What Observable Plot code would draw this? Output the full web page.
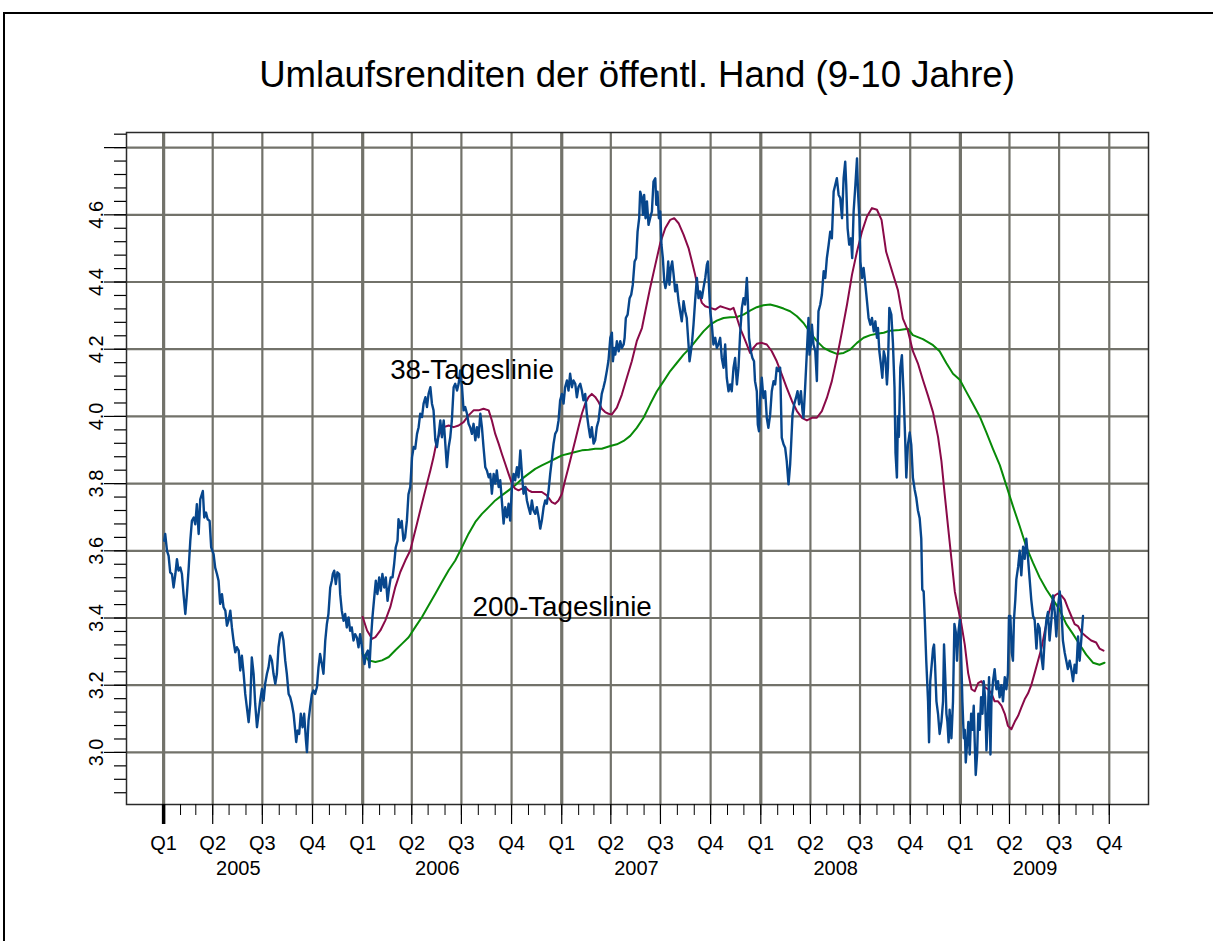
<!DOCTYPE html>
<html><head><meta charset="utf-8">
<script src="https://cdn.jsdelivr.net/npm/d3@7"></script>
<script src="https://cdn.jsdelivr.net/npm/@observablehq/plot@0.6"></script>
<style>
html,body{margin:0;padding:0;background:#fff;width:1213px;height:941px;overflow:hidden;position:relative;}
#outer{position:absolute;left:3px;top:12px;width:1300px;height:1000px;border-left:2px solid #000;border-top:2px solid #000;box-sizing:border-box;}
#title{position:absolute;left:126px;top:0;width:1022px;height:120px;text-align:center;font-family:"Liberation Sans",Arial,sans-serif;font-size:36.6px;line-height:42px;padding-top:54px;box-sizing:border-box;color:#000;}
#chart{position:absolute;left:0;top:120px;}
</style>
</head><body>
<div id="outer"></div>
<div id="title">Umlaufsrenditen der öffentl. Hand (9-10 Jahre)</div>
<div id="chart"></div>
<script>
// ---- data (decimal year, percent) ----
const yieldData = [
[2005.003,3.630],[2005.008,3.650],[2005.017,3.600],[2005.025,3.585],[2005.033,3.536],[2005.042,3.531],[2005.050,3.491],[2005.059,3.531],[2005.067,3.575],[2005.075,3.541],[2005.084,3.550],[2005.092,3.531],[2005.100,3.471],[2005.109,3.412],[2005.117,3.471],[2005.126,3.550],[2005.134,3.630],[2005.142,3.689],[2005.151,3.699],[2005.159,3.679],[2005.167,3.739],[2005.176,3.650],[2005.184,3.753],[2005.192,3.768],[2005.197,3.778],[2005.204,3.699],[2005.213,3.714],[2005.221,3.694],[2005.231,3.689],[2005.239,3.610],[2005.251,3.590],[2005.259,3.550],[2005.268,3.531],[2005.276,3.511],[2005.284,3.442],[2005.293,3.471],[2005.301,3.432],[2005.310,3.422],[2005.318,3.377],[2005.326,3.392],[2005.335,3.422],[2005.343,3.372],[2005.351,3.333],[2005.360,3.298],[2005.368,3.313],[2005.377,3.303],[2005.385,3.244],[2005.393,3.288],[2005.402,3.234],[2005.410,3.174],[2005.418,3.135],[2005.427,3.090],[2005.435,3.145],[2005.443,3.283],[2005.452,3.234],[2005.460,3.145],[2005.469,3.075],[2005.477,3.115],[2005.485,3.154],[2005.494,3.189],[2005.502,3.154],[2005.510,3.204],[2005.519,3.234],[2005.527,3.253],[2005.535,3.288],[2005.544,3.273],[2005.552,3.234],[2005.561,3.204],[2005.569,3.234],[2005.577,3.313],[2005.586,3.352],[2005.594,3.357],[2005.602,3.333],[2005.611,3.273],[2005.619,3.234],[2005.628,3.174],[2005.636,3.164],[2005.644,3.145],[2005.653,3.115],[2005.661,3.065],[2005.666,3.031],[2005.673,3.065],[2005.681,3.055],[2005.689,3.115],[2005.698,3.075],[2005.706,3.115],[2005.715,3.036],[2005.720,3.001],[2005.728,3.095],[2005.736,3.135],[2005.745,3.174],[2005.753,3.184],[2005.761,3.174],[2005.770,3.194],[2005.778,3.253],[2005.786,3.293],[2005.795,3.263],[2005.803,3.234],[2005.812,3.333],[2005.820,3.382],[2005.828,3.412],[2005.837,3.491],[2005.845,3.511],[2005.850,3.531],[2005.857,3.541],[2005.865,3.501],[2005.873,3.536],[2005.882,3.531],[2005.887,3.471],[2005.895,3.422],[2005.904,3.392],[2005.912,3.412],[2005.920,3.372],[2005.929,3.402],[2005.937,3.362],[2005.945,3.372],[2005.954,3.333],[2005.962,3.352],[2005.971,3.342],[2005.979,3.313],[2005.987,3.352],[2005.992,3.333],
[2006.001,3.293],[2006.009,3.263],[2006.017,3.293],[2006.026,3.303],[2006.034,3.253],[2006.041,3.333],[2006.049,3.402],[2006.058,3.461],[2006.066,3.511],[2006.074,3.471],[2006.083,3.521],[2006.091,3.481],[2006.099,3.531],[2006.108,3.491],[2006.116,3.521],[2006.125,3.451],[2006.133,3.491],[2006.141,3.521],[2006.150,3.521],[2006.158,3.560],[2006.166,3.610],[2006.175,3.630],[2006.180,3.694],[2006.188,3.669],[2006.196,3.689],[2006.205,3.630],[2006.213,3.640],[2006.222,3.689],[2006.230,3.768],
[2006.239,3.790],[2006.248,3.879],[2006.256,3.909],[2006.264,3.904],[2006.273,3.948],[2006.281,3.968],[2006.289,4.008],[2006.298,3.998],[2006.306,4.038],[2006.315,4.057],[2006.323,4.028],[2006.331,4.067],[2006.340,4.087],[2006.348,4.038],[2006.356,4.018],[2006.365,3.929],[2006.373,3.909],[2006.382,3.948],[2006.390,3.988],[2006.398,3.938],[2006.407,3.988],[2006.415,3.919],[2006.423,3.849],[2006.432,3.909],[2006.440,3.938],[2006.448,3.988],[2006.457,4.087],[2006.465,4.097],[2006.474,4.077],[2006.482,4.097],[2006.490,4.137],[2006.499,4.087],[2006.507,4.018],[2006.515,4.028],[2006.524,4.008],[2006.532,3.978],[2006.540,3.968],[2006.549,3.948],[2006.557,3.978],[2006.566,3.929],[2006.574,3.968],[2006.582,3.938],[2006.591,4.008],[2006.599,3.968],[2006.607,3.909],[2006.616,3.849],[2006.624,3.839],[2006.633,3.819],[2006.641,3.829],[2006.649,3.770],[2006.658,3.829],[2006.666,3.800],[2006.674,3.839],[2006.683,3.790],[2006.691,3.810],[2006.699,3.750],[2006.708,3.681],[2006.716,3.730],[2006.725,3.700],[2006.733,3.740],[2006.741,3.690],[2006.750,3.790],[2006.758,3.829],[2006.766,3.810],[2006.775,3.849],[2006.783,3.819],[2006.792,3.899],[2006.800,3.829],[2006.808,3.770],[2006.817,3.790],[2006.825,3.750],[2006.833,3.730],[2006.842,3.710],[2006.850,3.750],[2006.858,3.720],[2006.867,3.710],[2006.875,3.730],[2006.884,3.700],[2006.892,3.666],[2006.900,3.690],[2006.909,3.730],[2006.917,3.750],[2006.925,3.740],[2006.934,3.780],[2006.942,3.829],[2006.950,3.869],[2006.959,3.919],[2006.967,3.948],[2006.976,3.958],[2006.984,3.988],[2006.992,4.048],
[2007.001,4.067],[2007.009,4.038],[2007.017,4.087],[2007.026,4.107],[2007.034,4.077],[2007.042,4.127],[2007.051,4.087],[2007.059,4.107],[2007.068,4.097],[2007.076,4.057],[2007.084,4.087],[2007.093,4.097],[2007.101,4.077],[2007.109,4.048],[2007.118,4.067],[2007.126,4.008],[2007.135,3.968],[2007.143,3.938],[2007.151,3.968],[2007.160,3.919],[2007.168,3.929],[2007.176,3.968],[2007.185,3.988],[2007.193,4.028],[2007.201,4.067],[2007.210,4.087],[2007.218,4.107],[2007.227,4.137],[2007.235,4.167],
[2007.244,4.234],[2007.252,4.249],[2007.257,4.164],[2007.264,4.204],[2007.269,4.184],[2007.277,4.224],[2007.286,4.194],[2007.294,4.224],[2007.302,4.204],[2007.311,4.214],[2007.316,4.234],[2007.322,4.293],[2007.331,4.303],[2007.341,4.352],[2007.349,4.362],[2007.357,4.392],[2007.366,4.461],[2007.374,4.471],[2007.381,4.550],[2007.389,4.590],[2007.394,4.669],[2007.403,4.650],[2007.408,4.600],[2007.414,4.659],[2007.421,4.590],[2007.428,4.640],[2007.436,4.570],[2007.444,4.590],[2007.453,4.610],[2007.461,4.699],[2007.470,4.709],[2007.475,4.630],[2007.481,4.669],[2007.488,4.590],[2007.495,4.610],[2007.501,4.511],[2007.508,4.471],[2007.515,4.402],[2007.521,4.382],[2007.528,4.402],[2007.535,4.461],[2007.541,4.392],[2007.548,4.442],[2007.555,4.461],[2007.562,4.422],[2007.570,4.372],[2007.578,4.392],[2007.587,4.343],[2007.595,4.313],[2007.603,4.283],[2007.612,4.343],[2007.620,4.313],[2007.628,4.293],[2007.637,4.214],[2007.642,4.164],[2007.649,4.194],[2007.655,4.224],[2007.662,4.273],[2007.670,4.343],[2007.679,4.412],[2007.687,4.352],[2007.695,4.372],[2007.704,4.352],[2007.712,4.382],[2007.721,4.412],[2007.729,4.451],[2007.734,4.461],[2007.741,4.372],[2007.746,4.313],[2007.754,4.273],[2007.762,4.214],[2007.771,4.234],[2007.779,4.204],[2007.787,4.214],[2007.796,4.234],[2007.804,4.174],[2007.813,4.145],[2007.821,4.214],[2007.829,4.115],[2007.838,4.075],[2007.846,4.095],[2007.854,4.075],[2007.863,4.145],[2007.871,4.174],[2007.880,4.095],[2007.888,4.145],[2007.896,4.244],[2007.905,4.323],[2007.913,4.352],[2007.921,4.333],[2007.930,4.412],[2007.935,4.343],[2007.941,4.234],[2007.950,4.194],[2007.958,4.174],[2007.966,4.164],[2007.971,4.105],[2007.980,4.075],[2007.985,3.976],[2007.991,3.956],[2007.996,4.046],
[2008.005,4.115],[2008.013,4.055],[2008.022,4.075],[2008.030,3.996],[2008.038,3.966],[2008.047,4.006],[2008.055,4.075],[2008.064,4.105],[2008.072,4.095],[2008.080,4.145],[2008.089,4.135],[2008.097,4.145],[2008.105,3.937],[2008.114,3.917],[2008.122,3.907],[2008.130,3.867],[2008.139,3.798],[2008.147,3.857],[2008.152,3.917],[2008.159,4.006],[2008.167,4.036],[2008.176,4.055],[2008.184,4.075],[2008.192,4.036],[2008.201,4.075],[2008.209,4.016],[2008.214,3.996],[2008.222,4.085],[2008.231,4.194],[2008.239,4.293],[2008.244,4.184],[2008.251,4.214],[2008.256,4.273],[2008.264,4.214],[2008.273,4.194],[2008.281,4.105],[2008.284,4.194],[2008.289,4.313],[2008.298,4.333],[2008.306,4.362],[2008.315,4.432],[2008.323,4.412],[2008.331,4.471],[2008.340,4.511],[2008.348,4.550],[2008.356,4.530],[2008.365,4.669],[2008.373,4.689],[2008.381,4.709],[2008.390,4.659],[2008.398,4.650],[2008.407,4.590],[2008.415,4.709],[2008.423,4.758],[2008.428,4.689],[2008.435,4.560],[2008.443,4.511],[2008.452,4.530],[2008.458,4.471],[2008.465,4.610],[2008.474,4.689],[2008.482,4.768],[2008.487,4.669],[2008.494,4.590],[2008.499,4.461],[2008.507,4.412],[2008.515,4.442],[2008.524,4.392],[2008.532,4.343],[2008.540,4.293],[2008.549,4.273],[2008.557,4.293],[2008.566,4.253],[2008.574,4.283],[2008.582,4.234],[2008.587,4.263],[2008.594,4.194],[2008.602,4.154],[2008.609,4.115],[2008.616,4.194],[2008.624,4.174],[2008.632,4.095],[2008.637,4.145],[2008.644,4.323],
[2008.654,4.303],[2008.662,4.218],[2008.670,4.085],[2008.675,3.891],[2008.682,3.818],[2008.687,4.000],[2008.692,3.939],[2008.699,4.145],[2008.707,4.182],[2008.716,4.061],[2008.723,3.939],[2008.729,3.818],[2008.737,3.915],[2008.746,3.952],[2008.754,3.915],[2008.762,3.818],[2008.771,3.782],[2008.779,3.758],[2008.787,3.721],[2008.796,3.697],[2008.804,3.636],[2008.809,3.485],[2008.816,3.479],[2008.821,3.406],[2008.829,3.273],[2008.838,3.152],[2008.843,3.030],[2008.849,3.212],[2008.858,3.273],[2008.863,3.309],[2008.868,3.321],[2008.873,3.261],[2008.880,3.152],[2008.888,3.115],[2008.896,3.055],[2008.905,3.091],[2008.913,3.152],[2008.918,3.321],[2008.925,3.212],[2008.930,3.115],[2008.935,3.091],[2008.941,3.030],[2008.946,3.127],[2008.955,3.042],[2008.963,3.152],[2008.970,3.382],[2008.977,3.358],[2008.983,3.273],[2008.990,3.358],[2008.997,3.394],
[2009.003,3.309],[2009.010,3.152],[2009.017,3.042],[2009.022,3.067],[2009.027,2.970],[2009.034,3.030],[2009.040,3.091],[2009.047,2.994],[2009.054,3.115],[2009.060,3.067],[2009.067,3.139],[2009.072,3.030],[2009.077,2.933],[2009.084,2.994],[2009.090,3.115],[2009.097,3.067],[2009.104,3.164],[2009.111,3.115],[2009.117,3.212],[2009.124,3.164],[2009.131,3.006],[2009.137,3.091],[2009.144,3.224],[2009.151,2.994],[2009.156,3.152],[2009.164,3.212],[2009.172,3.248],[2009.181,3.188],[2009.189,3.212],[2009.197,3.164],[2009.206,3.200],[2009.214,3.152],[2009.223,3.224],[2009.231,3.188],[2009.239,3.236],[2009.244,3.406],[2009.251,3.406],[2009.258,3.297],[2009.264,3.273],[2009.269,3.394],[2009.276,3.455],[2009.281,3.515],[2009.290,3.552],[2009.298,3.600],[2009.306,3.527],[2009.315,3.612],[2009.323,3.576],[2009.331,3.636],[2009.340,3.576],[2009.348,3.515],[2009.356,3.455],[2009.365,3.406],[2009.373,3.394],[2009.382,3.309],[2009.390,3.382],[2009.398,3.370],[2009.407,3.285],[2009.415,3.248],[2009.423,3.333],[2009.432,3.394],[2009.440,3.418],[2009.448,3.333],[2009.457,3.394],[2009.465,3.467],[2009.474,3.418],[2009.482,3.345],[2009.490,3.430],[2009.499,3.479],[2009.507,3.430],[2009.515,3.333],[2009.524,3.297],[2009.532,3.273],[2009.540,3.248],[2009.549,3.273],[2009.557,3.248],[2009.566,3.212],[2009.574,3.261],[2009.582,3.236],[2009.591,3.345],[2009.599,3.273],[2009.607,3.333],[2009.616,3.406]
];

const ma38Data = [
[2006.000,3.403],[2006.022,3.363],[2006.047,3.338],[2006.064,3.343],[2006.089,3.363],[2006.114,3.393],[2006.139,3.433],[2006.164,3.492],[2006.189,3.537],[2006.214,3.571],[2006.239,3.601],[2006.256,3.641],[2006.273,3.681],[2006.289,3.720],[2006.306,3.760],[2006.323,3.800],[2006.340,3.839],[2006.356,3.879],[2006.373,3.929],[2006.390,3.953],[2006.407,3.968],[2006.432,3.973],[2006.457,3.968],[2006.482,3.973],[2006.507,3.983],[2006.532,4.003],[2006.557,4.018],[2006.582,4.018],[2006.607,4.023],[2006.633,4.018],[2006.649,3.988],[2006.666,3.948],[2006.683,3.919],[2006.699,3.889],[2006.716,3.859],[2006.733,3.829],[2006.750,3.800],[2006.766,3.785],[2006.783,3.780],[2006.800,3.785],[2006.817,3.790],[2006.833,3.780],[2006.850,3.775],[2006.875,3.775],[2006.900,3.775],[2006.925,3.765],[2006.950,3.745],[2006.967,3.740],[2006.984,3.750],
[2007.001,3.770],[2007.017,3.810],[2007.034,3.849],[2007.051,3.889],[2007.068,3.929],[2007.084,3.968],[2007.101,4.008],[2007.118,4.038],[2007.135,4.058],[2007.151,4.067],[2007.168,4.058],[2007.185,4.043],[2007.201,4.023],[2007.218,4.013],[2007.235,4.008],[2007.252,4.006],[2007.277,4.026],[2007.302,4.065],[2007.327,4.115],[2007.352,4.164],[2007.377,4.224],[2007.403,4.263],[2007.420,4.313],[2007.444,4.382],[2007.470,4.451],[2007.495,4.516],[2007.520,4.560],[2007.545,4.585],[2007.565,4.590],[2007.587,4.575],[2007.612,4.541],[2007.637,4.501],[2007.654,4.461],[2007.670,4.422],[2007.687,4.372],[2007.704,4.338],[2007.721,4.328],[2007.746,4.323],[2007.771,4.318],[2007.796,4.328],[2007.821,4.323],[2007.846,4.318],[2007.863,4.323],[2007.880,4.293],[2007.896,4.263],[2007.913,4.239],[2007.930,4.214],[2007.946,4.189],[2007.963,4.204],[2007.980,4.216],
[2008.005,4.219],[2008.030,4.214],[2008.055,4.194],[2008.080,4.164],[2008.105,4.125],[2008.130,4.085],[2008.156,4.046],[2008.181,4.016],[2008.206,3.996],[2008.231,3.988],[2008.256,3.996],[2008.281,3.996],[2008.306,4.016],[2008.331,4.055],[2008.356,4.105],[2008.381,4.174],[2008.407,4.253],[2008.432,4.333],[2008.457,4.422],[2008.482,4.491],[2008.507,4.550],[2008.532,4.595],[2008.557,4.620],[2008.582,4.615],[2008.605,4.585],[2008.628,4.490],[2008.662,4.424],[2008.687,4.376],[2008.712,4.291],[2008.737,4.255],[2008.762,4.194],[2008.787,4.158],[2008.812,4.109],[2008.838,4.061],[2008.863,4.012],[2008.888,3.939],[2008.905,3.867],[2008.921,3.770],[2008.938,3.673],[2008.955,3.576],[2008.972,3.479],[2008.988,3.430],
[2009.005,3.382],[2009.022,3.321],[2009.039,3.236],[2009.056,3.188],[2009.072,3.182],[2009.089,3.206],[2009.106,3.212],[2009.123,3.194],[2009.139,3.188],[2009.156,3.176],[2009.172,3.152],[2009.189,3.152],[2009.206,3.139],[2009.223,3.115],[2009.239,3.079],[2009.256,3.069],[2009.273,3.091],[2009.290,3.109],[2009.306,3.133],[2009.323,3.158],[2009.340,3.176],[2009.356,3.200],[2009.373,3.236],[2009.390,3.273],[2009.407,3.309],[2009.423,3.358],[2009.440,3.406],[2009.457,3.442],[2009.474,3.467],[2009.490,3.473],[2009.507,3.467],[2009.524,3.455],[2009.540,3.430],[2009.557,3.406],[2009.574,3.382],[2009.591,3.376],[2009.607,3.358],[2009.632,3.345],[2009.657,3.333],[2009.682,3.327],[2009.699,3.309],[2009.719,3.303]
];

const ma200Data = [
[2006.000,3.294],[2006.030,3.274],[2006.064,3.269],[2006.097,3.274],[2006.131,3.284],[2006.164,3.304],[2006.197,3.323],[2006.231,3.343],[2006.264,3.373],[2006.298,3.403],[2006.331,3.437],[2006.365,3.472],[2006.398,3.507],[2006.432,3.542],[2006.465,3.571],[2006.499,3.611],[2006.532,3.651],[2006.566,3.686],[2006.599,3.710],[2006.633,3.730],[2006.666,3.750],[2006.699,3.765],[2006.733,3.780],[2006.766,3.795],[2006.800,3.814],[2006.833,3.829],[2006.867,3.844],[2006.900,3.854],[2006.934,3.864],[2006.967,3.874],
[2007.001,3.884],[2007.034,3.889],[2007.068,3.894],[2007.101,3.899],[2007.135,3.901],[2007.168,3.904],[2007.201,3.904],[2007.244,3.912],[2007.277,3.917],[2007.311,3.927],[2007.344,3.942],[2007.377,3.966],[2007.411,3.996],[2007.444,4.036],[2007.478,4.075],[2007.512,4.105],[2007.545,4.135],[2007.578,4.159],[2007.612,4.184],[2007.645,4.204],[2007.679,4.229],[2007.712,4.253],[2007.746,4.273],[2007.779,4.285],[2007.813,4.293],[2007.846,4.295],[2007.880,4.296],[2007.913,4.303],[2007.946,4.315],[2007.980,4.325],
[2008.013,4.331],[2008.047,4.333],[2008.080,4.328],[2008.114,4.321],[2008.147,4.313],[2008.181,4.298],[2008.214,4.278],[2008.248,4.249],[2008.281,4.224],[2008.315,4.204],[2008.348,4.194],[2008.381,4.186],[2008.415,4.189],[2008.448,4.199],[2008.482,4.219],[2008.515,4.234],[2008.549,4.242],[2008.582,4.246],[2008.616,4.249],[2008.645,4.255],[2008.695,4.257],[2008.737,4.261],[2008.762,4.242],[2008.812,4.230],[2008.863,4.212],[2008.896,4.194],[2008.930,4.158],[2008.963,4.127],[2008.997,4.109],
[2009.030,4.073],[2009.064,4.036],[2009.097,4.000],[2009.131,3.952],[2009.164,3.903],[2009.198,3.855],[2009.231,3.794],[2009.264,3.733],[2009.298,3.673],[2009.331,3.612],[2009.365,3.564],[2009.398,3.521],[2009.432,3.485],[2009.465,3.455],[2009.499,3.424],[2009.532,3.382],[2009.566,3.352],[2009.599,3.321],[2009.632,3.291],[2009.666,3.267],[2009.699,3.261],[2009.724,3.267]
];

const years = [2005, 2006, 2007, 2008, 2009];
const quarterLabels = ["Q1", "Q2", "Q3", "Q4"];
const yGridValues = [3.0, 3.2, 3.4, 3.6, 3.8, 4.0, 4.2, 4.4, 4.6, 4.8];
const yLabelValues = [3.0, 3.2, 3.4, 3.6, 3.8, 4.0, 4.2, 4.4, 4.6];
const annotationText = ["38-Tageslinie", "200-Tageslinie"];
const annotationYear = [2006.138, 2006.552];
const annotationValue = [4.112, 3.407];

// ---- helpers ----
function toDate(t) {
  const y = Math.floor(t);
  const a = Date.UTC(y, 0, 1), b = Date.UTC(y + 1, 0, 1);
  return new Date(a + (t - y) * (b - a));
}
const lastTick = new Date(Date.UTC(2009, 9, 1));
const quarterDates = years.flatMap(y => [0, 3, 6, 9].map(m => new Date(Date.UTC(y, m, 1))));
const monthDates = years.flatMap(y => d3.range(12).map(m => new Date(Date.UTC(y, m, 1)))).filter(d => d <= lastTick);
const yearMid = years.map(y => toDate(y + 0.375));
const yMinor = d3.range(0, 51).map(i => 2.88 + i * 0.04).filter(v => v < 4.85);
const annotations = annotationText.map((t, i) => ({t, x: toDate(annotationYear[i]), y: annotationValue[i]}));

const gridColor = "#72726a";
const font = "'Liberation Sans', Arial, Helvetica, sans-serif";

const chart = Plot.plot({
  width: 1213,
  height: 821,
  marginLeft: 126,
  marginRight: 65,
  marginTop: 12,
  marginBottom: 137,
  x: {type: "utc", domain: [toDate(2004.814), toDate(2009.945)], axis: null},
  y: {domain: [2.845, 4.845], axis: null},
  style: {fontFamily: font, fontSize: "20px", background: "transparent", color: "#000", overflow: "visible"},
  marks: [
    Plot.ruleY(yGridValues, {stroke: gridColor, strokeWidth: 2.2}),
    Plot.ruleX(quarterDates, {stroke: gridColor, strokeWidth: d => d.getUTCMonth() === 0 ? 3.2 : 2.2}),
    Plot.line(ma200Data, {x: d => toDate(d[0]), y: d => d[1], stroke: "#088a08", strokeWidth: 2}),
    Plot.line(ma38Data, {x: d => toDate(d[0]), y: d => d[1], stroke: "#8a0a48", strokeWidth: 2}),
    Plot.line(yieldData, {x: d => toDate(d[0]), y: d => d[1], stroke: "#07468c", strokeWidth: 2.4}),
    Plot.frame({stroke: "#2a2a2a", strokeWidth: 1.5}),
    Plot.axisX(monthDates, {tickSize: 11, tickFormat: () => "", label: null, strokeWidth: 1}),
    Plot.axisX(quarterDates, {tickSize: 20, tickPadding: 11, label: null, fontSize: 20, strokeWidth: 1.2,
      tickFormat: d => quarterLabels[d.getUTCMonth() / 3]}),
    Plot.axisX([quarterDates[0]], {tickSize: 20, tickFormat: () => "", label: null, strokeWidth: 3.5}),
    Plot.axisX(yearMid, {tickSize: 0, tickPadding: 56, label: null, fontSize: 20, tickFormat: d => String(d.getUTCFullYear())}),
    Plot.axisY(yMinor, {tickSize: 12, tickFormat: () => "", label: null, strokeWidth: 1.2}),
    Plot.axisY(yGridValues, {tickSize: 22, tickFormat: () => "", label: null, strokeWidth: 1.2}),
    Plot.text(yLabelValues, {y: d => d, text: d => d.toFixed(1), frameAnchor: "left", dx: -24, rotate: -90,
      textAnchor: "middle", lineAnchor: "bottom", fontSize: 20, fill: "#000"}),
    Plot.text(annotations, {x: "x", y: "y", text: "t", textAnchor: "start", lineAnchor: "bottom", fontSize: 27.8, fill: "#000"})
  ]
});
document.getElementById("chart").appendChild(chart);
</script>
</body></html>
